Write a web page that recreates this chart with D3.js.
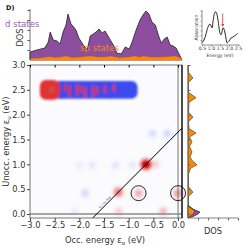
<!DOCTYPE html>
<html>
<head>
<meta charset="utf-8">
<script src="https://cdn.jsdelivr.net/npm/d3@7"></script>
<style>
  body { margin: 0; background: #fff; }
  svg { display: block; font-family: "DejaVu Sans", sans-serif; }
</style>
</head>
<body>
<div id="app"></div>
<script>
// ---- data ----
const xTicks = [-3.0, -2.5, -2.0, -1.5, -1.0, -0.5, 0.0];
const yTicks = [0.0, 0.5, 1.0, 1.5, 2.0, 2.5, 3.0];
const omega = 1.65; // excitation energy (eV)

// d-state DOS along occupied energy (top panel)
const dTopE = [-3.0, -2.86, -2.70, -2.63, -2.59, -2.53, -2.45, -2.39, -2.33, -2.27, -2.23, -2.17, -2.13, -2.07, -2.01, -1.92, -1.84, -1.78, -1.72, -1.66, -1.60, -1.54, -1.48, -1.42, -1.36, -1.30, -1.24, -1.15, -1.07, -0.99, -0.93, -0.85, -0.77, -0.71, -0.65, -0.59, -0.53, -0.46, -0.40, -0.34, -0.28, -0.22, -0.16, -0.10, -0.04, 0.02, 0.08];
const dTopV = [0.16, 0.20, 0.24, 0.36, 0.56, 0.40, 0.38, 0.32, 0.56, 0.70, 0.92, 0.72, 0.68, 0.60, 0.44, 0.30, 0.20, 0.48, 0.52, 0.56, 0.62, 0.54, 0.58, 0.48, 0.38, 0.28, 0.14, 0.12, 0.26, 0.22, 0.36, 0.60, 0.80, 0.90, 0.98, 0.92, 0.76, 0.70, 0.50, 0.34, 0.42, 0.46, 0.30, 0.28, 0.24, 0.12, 0.0];
// sp-state DOS along occupied energy (top panel)
const spTopE = [-3.0, -2.8, -2.6, -2.5, -2.4, -2.27, -2.15, -2.0, -1.78, -1.6, -1.4, -1.36, -1.2, -1.0, -0.88, -0.78, -0.7, -0.55, -0.4, -0.2, -0.05, 0.05, 0.08];
const spTopV = [0.02, 0.03, 0.06, 0.04, 0.05, 0.07, 0.04, 0.05, 0.07, 0.05, 0.06, 0.07, 0.04, 0.05, 0.07, 0.05, 0.07, 0.05, 0.05, 0.06, 0.07, 0.03, 0.0];

// sp-state DOS along unoccupied energy (right panel)
const spRightE = [3.0, 2.85, 2.74, 2.65, 2.45, 2.34, 2.25, 2.05, 1.95, 1.86, 1.72, 1.63, 1.55, 1.45, 1.36, 1.25, 1.15, 1.08, 0.99, 0.92, 0.80, 0.55, 0.44, 0.36, 0.15, 0.06, 0.0, -0.08];
const spRightV = [0.0, 0.01, 0.10, 0.01, 0.01, 0.16, 0.02, 0.01, 0.10, 0.01, 0.02, 0.16, 0.03, 0.08, 0.03, 0.08, 0.04, 0.08, 0.18, 0.05, 0.01, 0.01, 0.10, 0.01, 0.01, 0.14, 0.10, 0.0];
// d-state DOS along unoccupied energy (right panel)
const dRightE = [0.18, 0.10, 0.04, 0.0, -0.05, -0.08];
const dRightV = [0.0, 0.10, 0.24, 0.20, 0.10, 0.0];

// transition contribution spots: occ energy, unocc energy, weight (+ red, - blue)
const spotOcc = [-0.65, -1.21, -0.80, 0.0, -0.30, -1.20, -0.45, -0.52, -0.22, -1.74, -1.99, -1.27, -0.93, -1.88, -2.10];
const spotUnocc = [1.00, 0.44, 0.42, 0.42, 0.05, 0.05, 1.00, 1.62, 1.62, 0.98, 0.98, 0.98, 0.98, 0.42, 0.05];
const spotW = [1.0, 0.55, 0.28, 0.38, 0.20, 0.10, 0.08, -0.16, -0.20, -0.08, -0.05, -0.09, -0.07, -0.18, -0.06];

// circled transitions
const ringOcc = [-0.80, 0.0];
const ringUnocc = [0.42, 0.42];

// absorption spectrum (inset)
const absE = [0.5, 0.61, 0.72, 0.83, 0.94, 1.06, 1.11, 1.22, 1.28, 1.39, 1.50, 1.56, 1.67, 1.72, 1.83, 1.89, 2.0, 2.11, 2.22, 2.39, 2.5];
const absV = [0.06, 0.14, 0.31, 0.51, 0.60, 0.49, 0.66, 0.94, 0.94, 0.71, 0.34, 0.29, 0.49, 0.46, 0.20, 0.06, 0.11, 0.20, 0.23, 0.29, 0.34];
const absTicks = [0.5, 1.0, 1.5, 2.0, 2.5];

// induced density of the rod (drawn as an inset picture): position along rod, sign
const rodStripes = [-2.50, -2.42, -2.36, -2.28, -2.20, -2.12, -2.04, -1.96, -1.88, -1.80, -1.72, -1.64, -1.56, -1.48, -1.40, -1.30, -1.20];
const rodStripeSign = [1, 1, -1, 1, 1, -1, 1, 1, 1, -1, 1, 1, -1, 1, -1, 1, -1];

// ---- layout ----
const width = 249, height = 249;
const purple = "#8d4e9f", orange = "#fb8a00";
const red = "#e03030", blue = "#3a4cf0";

const x = d3.scaleLinear().domain([-3.0, 0.08]).range([30, 182]);
const y = d3.scaleLinear().domain([-0.08, 3.0]).range([218, 65]);
const yTop = d3.scaleLinear().domain([0, 1]).range([60, 10]);
const xRight = d3.scaleLinear().domain([0, 1]).range([188, 238]);
const xAbs = d3.scaleLinear().domain([0.5, 2.5]).range([202, 238]);
const yAbs = d3.scaleLinear().domain([0, 1]).range([45, 10]);

const svg = d3.select("#app").append("svg")
  .attr("width", width).attr("height", height)
  .attr("viewBox", `0 0 ${width} ${height}`);

const defs = svg.append("defs");
defs.append("filter").attr("id", "blur").attr("x", "-100%").attr("y", "-100%")
  .attr("width", "300%").attr("height", "300%")
  .append("feGaussianBlur").attr("stdDeviation", 2.2);
defs.append("filter").attr("id", "blur2").attr("x", "-50%").attr("y", "-50%")
  .attr("width", "200%").attr("height", "200%")
  .append("feGaussianBlur").attr("stdDeviation", 0.8);
defs.append("marker").attr("id", "arrow").attr("viewBox", "0 0 10 10")
  .attr("refX", 8).attr("refY", 5).attr("markerWidth", 4).attr("markerHeight", 4)
  .attr("orient", "auto")
  .append("path").attr("d", "M0,0L10,5L0,10z").attr("fill", "#e8303a");

// ---- main panel ----
svg.append("rect").attr("x", x(-3.0)).attr("y", y(3.0))
  .attr("width", x(0.08) - x(-3.0)).attr("height", y(-0.08) - y(3.0))
  .attr("fill", "#fbfbfe");

const spots = spotOcc.map((o, i) => ({ o, u: spotUnocc[i], w: spotW[i] }));
svg.append("g").attr("filter", "url(#blur)")
  .selectAll("circle").data(spots).join("circle")
  .attr("cx", d => x(d.o)).attr("cy", d => y(d.u))
  .attr("r", d => 3.2 + 2 * Math.abs(d.w))
  .attr("fill", d => d.w > 0 ? (d.w > 0.8 ? "#d00000" : red) : "#4a5af0")
  .attr("fill-opacity", d => d.w > 0 ? Math.min(1, 0.2 + Math.abs(d.w)) : 0.08 + Math.abs(d.w));
// sharp core of the strongest transition
svg.append("circle").attr("cx", x(spotOcc[0])).attr("cy", y(spotUnocc[0]))
  .attr("r", 2.6).attr("fill", "#c80000").attr("filter", "url(#blur2)");

// rod picture
const rod = svg.append("g").attr("filter", "url(#blur2)");
rod.append("rect").attr("x", x(-2.62)).attr("y", y(2.68))
  .attr("width", x(-0.82) - x(-2.62)).attr("height", y(2.32) - y(2.68))
  .attr("rx", 6).attr("fill", blue);
rod.append("rect").attr("x", x(-2.80)).attr("y", y(2.70))
  .attr("width", x(-2.40) - x(-2.80)).attr("height", y(2.30) - y(2.70))
  .attr("rx", 6).attr("fill", red);
rod.selectAll("rect.stripe").data(rodStripes).join("rect")
  .attr("class", "stripe")
  .attr("x", d => x(d) - 1.2).attr("y", (d, i) => y(2.62 - (i % 3) * 0.03))
  .attr("width", 2.4).attr("height", (d, i) => y(2.38) - y(2.62) - (i % 2) * 4)
  .attr("rx", 1.2)
  .attr("fill", (d, i) => rodStripeSign[i] > 0 ? red : "#5a3fd8");
rod.append("rect").attr("x", x(-2.62)).attr("y", y(2.56))
  .attr("width", x(-2.50) - x(-2.62)).attr("height", y(2.44) - y(2.56))
  .attr("fill", "#d84848");

// zero lines
svg.append("line").attr("x1", x(-3.0)).attr("x2", x(0.08))
  .attr("y1", y(0)).attr("y2", y(0)).attr("stroke", "#8a8a8a").attr("stroke-width", 1.5);
svg.append("line").attr("x1", x(0)).attr("x2", x(0))
  .attr("y1", y(3.0)).attr("y2", y(-0.08)).attr("stroke", "#8a8a8a").attr("stroke-width", 1.2);

// diagonal eu - eo = omega
svg.append("line")
  .attr("x1", x(-0.08 - omega)).attr("y1", y(-0.08))
  .attr("x2", x(0.08)).attr("y2", y(0.08 + omega))
  .attr("stroke", "#000").attr("stroke-width", 1);
const ang = Math.atan2(y(1) - y(0), x(1) - x(0)) * 180 / Math.PI;
svg.append("text")
  .attr("transform", `translate(${x(-1.56) - 1},${y(0.09) - 1}) rotate(${ang})`)
  .attr("font-size", 3.6).attr("fill", "#444")
  .text("εᵤ−εₒ=ω");

// rings
svg.append("g").selectAll("circle").data(ringOcc).join("circle")
  .attr("cx", d => x(d)).attr("cy", (d, i) => y(ringUnocc[i]))
  .attr("r", 7.5).attr("fill", "none").attr("stroke", "#111").attr("stroke-width", 0.9);

// frame
svg.append("rect").attr("x", x(-3.0)).attr("y", y(3.0))
  .attr("width", x(0.08) - x(-3.0)).attr("height", y(-0.08) - y(3.0))
  .attr("fill", "none").attr("stroke", "#555").attr("stroke-width", 0.8);
svg.append("line").attr("x1", x(0.08)).attr("x2", x(0.08))
  .attr("y1", y(3.0)).attr("y2", y(-0.08)).attr("stroke", "#000").attr("stroke-width", 1.2);

const xAxis = svg.append("g").attr("transform", `translate(0,${y(-0.08)})`)
  .call(d3.axisBottom(x).tickValues(xTicks).tickSize(3).tickPadding(1.5)
    .tickFormat(d => d3.format(".1f")(d).replace("-", "−")));
const yAxis = svg.append("g").attr("transform", `translate(${x(-3.0)},0)`)
  .call(d3.axisLeft(y).tickValues(yTicks).tickSize(3).tickPadding(1.5).tickFormat(d3.format(".1f")));
svg.append("g").attr("transform", `translate(0,${y(3.0)})`)
  .call(d3.axisTop(x).tickValues(xTicks).tickSize(-2.5).tickFormat(""));
[xAxis, yAxis].forEach(g => {
  g.select(".domain").remove();
  g.selectAll("line").attr("stroke", "#444");
  g.selectAll("text").attr("font-size", 8.3).attr("fill", "#333")
    .attr("font-family", "DejaVu Sans");
});
svg.selectAll(".domain").attr("stroke", "none");

svg.append("text").attr("x", 105).attr("y", 243).attr("text-anchor", "middle")
  .attr("font-size", 8.3).attr("fill", "#333")
  .html("Occ. energy ε<tspan font-size='5.5' dy='1.5'>o</tspan><tspan dy='-1.5'> (eV)</tspan>");
svg.append("text").attr("transform", `translate(9,${(y(3.0) + y(-0.08)) / 2}) rotate(-90)`)
  .attr("text-anchor", "middle").attr("font-size", 8.3).attr("fill", "#333")
  .html("Unocc. energy ε<tspan font-size='5.5' dy='1.5'>u</tspan><tspan dy='-1.5'> (eV)</tspan>");

// ---- top DOS panel ----
const areaTop = d3.area().x(d => x(d[0])).y0(yTop(0)).y1(d => yTop(d[1]));
const dTop = dTopE.map((e, i) => [e, dTopV[i]]);
const spTop = spTopE.map((e, i) => [e, spTopV[i]]);
svg.append("path").datum(dTop).attr("d", areaTop).attr("fill", purple)
  .attr("stroke", "#222").attr("stroke-width", 0.8);
svg.append("path").datum(spTop).attr("d", areaTop).attr("fill", orange)
  .attr("stroke", orange).attr("stroke-width", 0.6);
svg.append("line").attr("x1", x(-3.0)).attr("x2", x(-3.0))
  .attr("y1", yTop(1.02)).attr("y2", yTop(0)).attr("stroke", "#555").attr("stroke-width", 0.8);
svg.append("g").attr("transform", `translate(${x(-3.0)},0)`)
  .call(d3.axisLeft(yTop).tickValues([0.2, 0.4, 0.6, 0.8, 1.0]).tickSize(2.5).tickFormat(""))
  .call(g => { g.select(".domain").remove(); g.selectAll("line").attr("stroke", "#555"); });

svg.append("text").attr("x", 5).attr("y", 27).attr("font-size", 8.6)
  .attr("fill", "#9a5cb0").text("d states");
svg.append("text").attr("x", 80).attr("y", 51).attr("font-size", 8.6)
  .attr("fill", "#f48a10").text("sp states");
svg.append("text").attr("transform", `translate(23,${yTop(0.45)}) rotate(-90)`)
  .attr("text-anchor", "middle").attr("font-size", 8.3).attr("fill", "#333").text("DOS");
svg.append("text").attr("x", 6).attr("y", 10).attr("font-size", 6.5)
  .attr("font-weight", "bold").attr("fill", "#111").text("D)");

// ---- right DOS panel ----
const areaRight = d3.area().y(d => y(d[0])).x0(xRight(0)).x1(d => xRight(d[1]));
const dRight = dRightE.map((e, i) => [e, dRightV[i]]);
const spRight = spRightE.map((e, i) => [e, spRightV[i]]);
svg.append("path").datum(dRight).attr("d", areaRight).attr("fill", purple)
  .attr("stroke", "#222").attr("stroke-width", 0.7);
svg.append("path").datum(spRight).attr("d", areaRight).attr("fill", orange)
  .attr("stroke", "#333").attr("stroke-width", 0.6);
svg.append("line").attr("x1", xRight(0)).attr("x2", xRight(0))
  .attr("y1", y(3.0)).attr("y2", y(-0.08)).attr("stroke", "#666").attr("stroke-width", 0.8);
svg.append("line").attr("x1", xRight(0)).attr("x2", xRight(1))
  .attr("y1", y(-0.08)).attr("y2", y(-0.08)).attr("stroke", "#666").attr("stroke-width", 0.8);
svg.append("g").attr("transform", `translate(${xRight(0)},0)`)
  .call(d3.axisRight(y).tickValues(yTicks).tickSize(2.5).tickFormat(""))
  .call(g => { g.select(".domain").remove(); g.selectAll("line").attr("stroke", "#666"); });
svg.append("g").attr("transform", `translate(0,${y(-0.08)})`)
  .call(d3.axisBottom(xRight).tickValues([0.2, 0.4, 0.6, 0.8, 1.0]).tickSize(2.5).tickFormat(""))
  .call(g => { g.select(".domain").remove(); g.selectAll("line").attr("stroke", "#666"); });
svg.append("text").attr("x", xRight(0.5)).attr("y", 234).attr("text-anchor", "middle")
  .attr("font-size", 8.3).attr("fill", "#333").text("DOS");

// ---- absorption inset ----
const absLine = d3.line().x(d => xAbs(d[0])).y(d => yAbs(d[1])).curve(d3.curveCatmullRom);
svg.append("path").datum(absE.map((e, i) => [e, absV[i]])).attr("d", absLine)
  .attr("fill", "none").attr("stroke", "#111").attr("stroke-width", 0.9);
svg.append("line").attr("x1", xAbs(0.5)).attr("x2", xAbs(0.5))
  .attr("y1", yAbs(1)).attr("y2", yAbs(0)).attr("stroke", "#444").attr("stroke-width", 0.6);
svg.append("line").attr("x1", xAbs(0.5)).attr("x2", xAbs(2.6))
  .attr("y1", yAbs(0)).attr("y2", yAbs(0)).attr("stroke", "#444").attr("stroke-width", 0.6);
svg.append("g").attr("transform", `translate(${xAbs(0.5)},0)`)
  .call(d3.axisLeft(yAbs).tickValues([0.14, 0.28, 0.42, 0.56, 0.70, 0.84, 0.98]).tickSize(1.5).tickFormat(""))
  .call(g => { g.select(".domain").remove(); g.selectAll("line").attr("stroke", "#444").attr("stroke-width", 0.5); });
const absAx = svg.append("g").attr("transform", `translate(0,${yAbs(0)})`)
  .call(d3.axisBottom(xAbs).tickValues(absTicks).tickSize(1.5).tickPadding(0.5).tickFormat(d3.format(".1f")));
absAx.select(".domain").remove();
absAx.selectAll("line").attr("stroke", "#444").attr("stroke-width", 0.5);
absAx.selectAll("text").attr("font-size", 4.6).attr("fill", "#333").attr("font-family", "DejaVu Sans");
svg.append("text").attr("x", xAbs(1.5)).attr("y", 57).attr("text-anchor", "middle")
  .attr("font-size", 4.6).attr("fill", "#333").text("Energy (eV)");
svg.append("text").attr("transform", `translate(198,${yAbs(0.5)}) rotate(-90)`)
  .attr("text-anchor", "middle").attr("font-size", 4.8).attr("fill", "#333").text("Absorption");
svg.append("line").attr("x1", xAbs(omega)).attr("x2", xAbs(omega))
  .attr("y1", yAbs(0.9)).attr("y2", yAbs(0.54))
  .attr("stroke", "#e8303a").attr("stroke-width", 0.8).attr("marker-end", "url(#arrow)");
</script>
</body>
</html>
